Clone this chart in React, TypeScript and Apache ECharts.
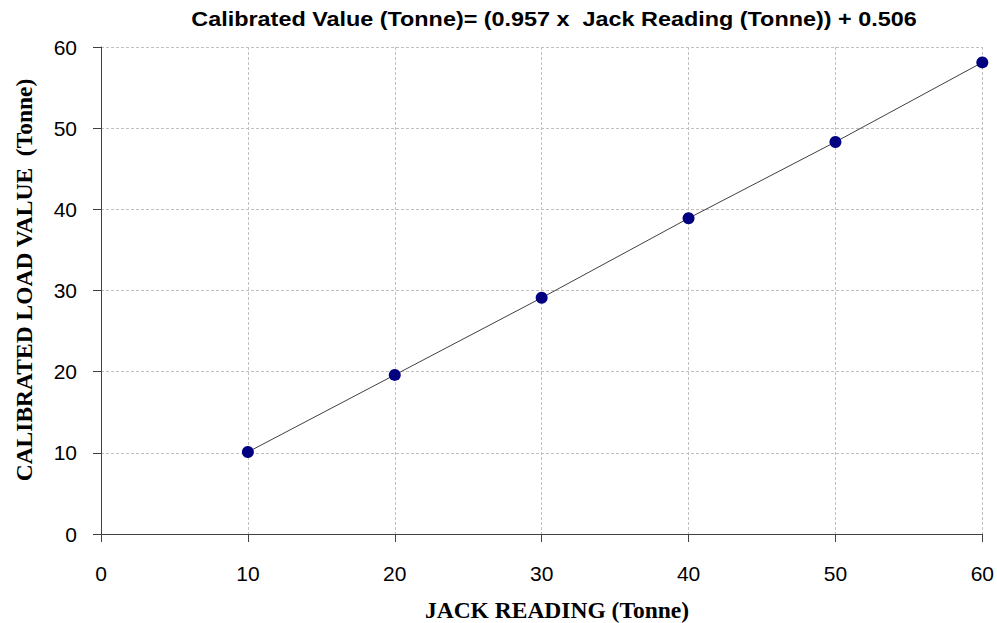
import React, { useEffect, useRef } from "react";
import * as echarts from "echarts";

const jackReading = [10, 20, 30, 40, 50, 60];
const calibratedValue = [10.1, 19.6, 29.1, 38.9, 48.3, 58.1];
const titleText = "Calibrated Value (Tonne)= (0.957 x  Jack Reading (Tonne)) + 0.506";
const xName = "JACK READING (Tonne)";
const yName = "CALIBRATED LOAD VALUE  (Tonne)";

export default function App() {
  const ref = useRef<HTMLDivElement>(null);
  useEffect(() => {
    if (!ref.current) return;
    const chart = echarts.init(ref.current, undefined, { renderer: "svg" });
    const axisCommon = {
      type: "value" as const,
      min: 0,
      max: 60,
      interval: 10,
      axisLine: { show: true, onZero: false, lineStyle: { color: "#404040", width: 1 } },
      axisTick: { show: true, inside: false, length: 8, lineStyle: { color: "#404040" } },
      splitLine: { show: true, lineStyle: { color: "#c0c0c0", type: [3, 2] as any, width: 1 } },
      axisLabel: { color: "#000", fontFamily: "Liberation Sans, Arial, sans-serif", fontSize: 21 },
    };
    const serif = "Liberation Serif, Times New Roman, serif";
    chart.setOption({
      animation: false,
      backgroundColor: "#fff",
      graphic: [
        {
          type: "text",
          x: 554,
          y: 20,
          scaleX: 1.2,
          style: {
            text: titleText,
            fontFamily: "Liberation Sans, Arial, sans-serif",
            fontWeight: "bold",
            fontSize: 19.5,
            fill: "#000",
            align: "center",
            verticalAlign: "middle",
          },
        },
        {
          type: "text",
          x: 557,
          y: 610,
          style: {
            text: xName,
            fontFamily: serif,
            fontWeight: "bold",
            fontSize: 23.5,
            fill: "#000",
            align: "center",
            verticalAlign: "middle",
          },
        },
        {
          type: "text",
          x: 24,
          y: 280,
          rotation: Math.PI / 2,
          style: {
            text: yName,
            fontFamily: serif,
            fontWeight: "bold",
            fontSize: 23.5,
            fill: "#000",
            align: "center",
            verticalAlign: "middle",
          },
        },
      ],
      grid: { left: 101, right: 13, top: 47, bottom: 89, containLabel: false },
      xAxis: {
        ...axisCommon,
        axisLabel: { ...axisCommon.axisLabel, margin: 29 },
      },
      yAxis: {
        ...axisCommon,
        axisLabel: { ...axisCommon.axisLabel, margin: 24 },
      },
      series: [
        {
          type: "line",
          data: jackReading.map((x, i) => [x, calibratedValue[i]]),
          symbol: "circle",
          symbolSize: 12,
          itemStyle: { color: "#000080" },
          lineStyle: { color: "#404040", width: 1 },
          z: 3,
        },
      ],
    });
    return () => chart.dispose();
  }, []);
  return <div ref={ref} style={{ width: 997, height: 623, position: "absolute", left: 0, top: 0 }} />;
}
